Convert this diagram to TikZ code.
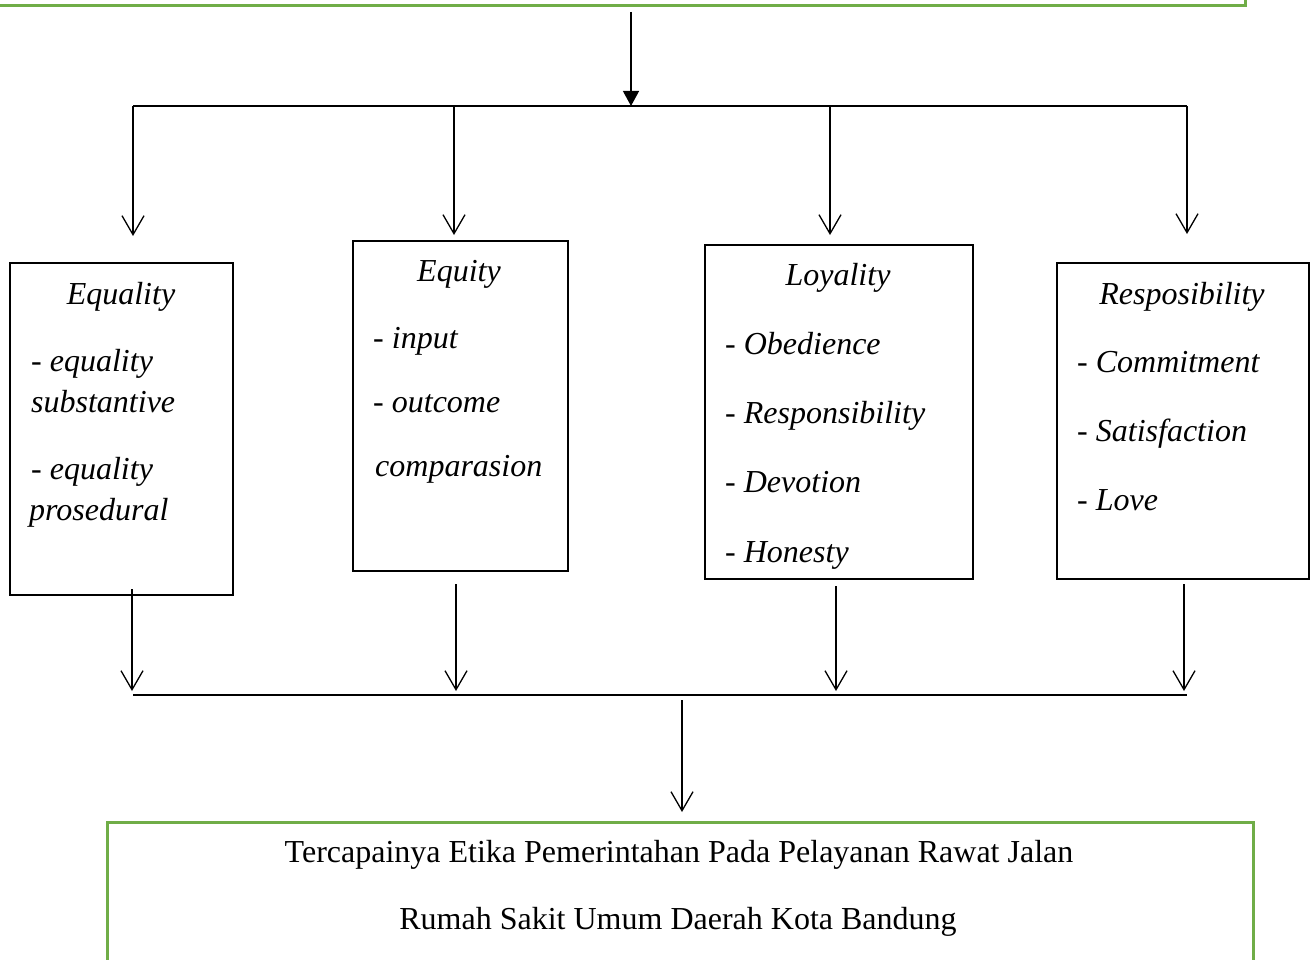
\documentclass[tikz,border=0pt]{standalone}
\usepackage{fontspec}
\setmainfont{Liberation Serif}
\usetikzlibrary{arrows.meta,positioning,calc}
\definecolor{boxgreen}{RGB}{112,173,71}
\newcommand{\diagfont}{\fontsize{32}{38}\selectfont}

\begin{document}
\begin{tikzpicture}[x=1pt,y=-1pt,
    frame/.style={draw, line width=2.2pt, inner sep=0pt, anchor=north west},
    goal/.style={draw=boxgreen, line width=3pt, inner sep=0pt},
    title/.style={anchor=base, inner sep=0pt, font=\diagfont\itshape},
    item/.style={anchor=base west, inner sep=0pt, font=\diagfont\itshape},
    openhead/.style={-{Straight Barb[length=19pt,width=22pt]}, line width=1.3pt},
    fillhead/.style={-{Triangle[length=15pt,width=16pt]}, line width=1.3pt},
    bus/.style={line width=1.8pt}]
    \useasboundingbox (0,0) rectangle (1316,960);

    % Top and bottom boxes
    \node[goal, anchor=south west, minimum width=1260pt, minimum height=100pt] (topbox) at (-16,7) {};
    \node[goal, anchor=north west, minimum width=1146pt, minimum height=200pt] (endbox) at (106,821) {};
    \node[anchor=base, font=\diagfont] (goal1) at (679,862) {Tercapainya Etika Pemerintahan Pada Pelayanan Rawat Jalan};
    \node[anchor=base, font=\diagfont] (goal2) at (678,929) {Rumah Sakit Umum Daerah Kota Bandung};

    % Four boxes
    \node[frame, minimum width=223pt, minimum height=332pt] (eqbox) at (9,262) {};
    \node[frame, minimum width=215pt, minimum height=330pt] (eqtybox) at (352,240) {};
    \node[frame, minimum width=268pt, minimum height=334pt] (loybox) at (704,244) {};
    \node[frame, minimum width=252pt, minimum height=316pt] (resbox) at (1056,262) {};

    % Equality
    \node[title] (eqtitle) at (121,304) {Equality};
    \node[item] (eq1) at (31,371) {- equality};
    \node[item] (eq2) at (31,412) {substantive};
    \node[item] (eq3) at (31,479) {- equality};
    \node[item] (eq4) at (29,520) {prosedural};

    % Equity
    \node[title] (eqtytitle) at (459,281) {Equity};
    \node[item] (eqty1) at (373,348) {- input};
    \node[item] (eqty2) at (373,412) {- outcome};
    \node[item] (eqty3) at (375,476) {comparasion};

    % Loyality
    \node[title] (loytitle) at (838,285) {Loyality};
    \node[item] (loy1) at (725,354) {- Obedience};
    \node[item] (loy2) at (725,423) {- Responsibility};
    \node[item] (loy3) at (725,492) {- Devotion};
    \node[item] (loy4) at (725,562) {- Honesty};

    % Resposibility
    \node[title] (restitle) at (1182,304) {Resposibility};
    \node[item] (res1) at (1077,372) {- Commitment};
    \node[item] (res2) at (1077,441) {- Satisfaction};
    \node[item] (res3) at (1077,510) {- Love};

    % Split from the top
    \coordinate (split) at (631,106);
    \coordinate (busL) at (133,106);
    \coordinate (busR) at (1187,106);
    \draw[fillhead, shorten <=5pt] (topbox.south -| split) -- (split);
    \draw[bus] (busL) -- (busR);
    \foreach \x/\b/\g in {133/eqbox/26, 454/eqtybox/5, 830/loybox/9, 1187/resbox/28}
        \draw[openhead, shorten >=\g pt] (\x,106) -- (\b.north -| \x,0);

    % Join at the bottom
    \coordinate (joinL) at (133,695);
    \coordinate (joinR) at (1187,695);
    \coordinate (merge) at (682,695);
    \foreach \x/\b/\s in {132/eqbox/-7, 456/eqtybox/12, 836/loybox/6, 1184/resbox/4}
        \draw[openhead, shorten <=\s pt, shorten >=4pt] (\b.south -| \x,0) -- (\x,695);
    \draw[line width=1.4pt] (joinL) -- (joinR);
    \draw[openhead, shorten <=5pt, shorten >=9pt] (merge) -- (merge |- endbox.north);
\end{tikzpicture}
\end{document}
